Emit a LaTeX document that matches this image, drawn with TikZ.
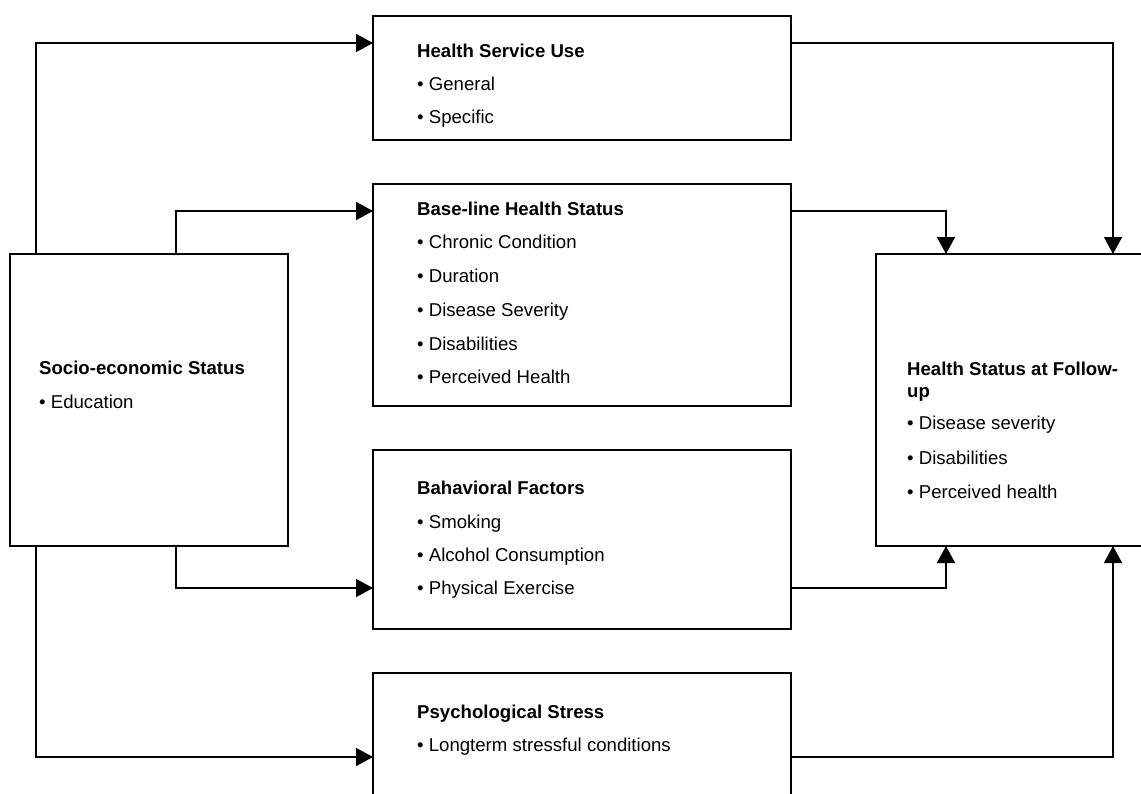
\documentclass[tikz,border=0pt]{standalone}
\usepackage{fontspec}
\setmainfont{Liberation Sans}
\usetikzlibrary{arrows.meta}
\begin{document}
\begin{tikzpicture}[x=1pt,y=-1pt,
  box/.style={draw=black,line width=1.5pt,rectangle,inner sep=0pt,outer sep=0pt},
  txt/.style={anchor=base west,inner sep=0pt,font=\fontsize{18.6}{21.5}\selectfont},
  ttl/.style={txt,font=\fontsize{18.6}{21.5}\selectfont\bfseries},
  arr/.style={line width=1.5pt,-{Triangle[length=17pt,width=18pt]}},
  ln/.style={line width=1.5pt}]
\useasboundingbox (0,0) rectangle (1141,793);
% boxes
\node[box,minimum width=418pt,minimum height=124pt] (hsu) at (582,78) {};
\node[box,minimum width=418pt,minimum height=222pt] (base) at (582,295) {};
\node[box,minimum width=418pt,minimum height=179pt] (beh) at (582,539.5) {};
\node[box,minimum width=418pt,minimum height=142pt] (psy) at (582,744) {};
\node[box,minimum width=278pt,minimum height=292pt] (ses) at (149,400) {};
\node[box,minimum width=284pt,minimum height=292pt] (hsf) at (1018,400) {};
% texts
\node[ttl] (hsuT) at (417,57) {Health Service Use};
\node[txt] (hsu1) at (417,90) {• General};
\node[txt] (hsu2) at (417,123) {• Specific};
\node[ttl] (baseT) at (417,215) {Base-line Health Status};
\node[txt] (base1) at (417,248) {• Chronic Condition};
\node[txt] (base2) at (417,282) {• Duration};
\node[txt] (base3) at (417,316) {• Disease Severity};
\node[txt] (base4) at (417,350) {• Disabilities};
\node[txt] (base5) at (417,383) {• Perceived Health};
\node[ttl] (behT) at (417,494) {Bahavioral Factors};
\node[txt] (beh1) at (417,528) {• Smoking};
\node[txt] (beh2) at (417,561) {• Alcohol Consumption};
\node[txt] (beh3) at (417,594) {• Physical Exercise};
\node[ttl] (psyT) at (417,718) {Psychological Stress};
\node[txt] (psy1) at (417,751) {• Longterm stressful conditions};
\node[ttl] (sesT) at (39,374) {Socio-economic Status};
\node[txt] (ses1) at (39,408) {• Education};
\node[ttl] (hsfT) at (907,375) {Health Status at Follow-};
\node[ttl] (hsfT2) at (907,397) {up};
\node[txt] (hsf1) at (907,429) {• Disease severity};
\node[txt] (hsf2) at (907,464) {• Disabilities};
\node[txt] (hsf3) at (907,498) {• Perceived health};
% connectors from SES
\draw[arr] ([xshift=26pt]ses.north west) |- ([yshift=-27pt]hsu.north west);
\draw[arr] ([xshift=166pt]ses.north west) |- ([yshift=-27pt]base.north west);
\draw[arr] ([xshift=166pt]ses.south west) |- ([yshift=41pt]beh.south west);
\draw[arr] ([xshift=26pt]ses.south west) |- ([yshift=-84pt]psy.north west);
% connectors to HSF
\draw[arr] ([yshift=-27pt]hsu.north east) -| ([xshift=237pt]hsf.north west);
\draw[arr] ([yshift=-27pt]base.north east) -| ([xshift=70pt]hsf.north west);
\draw[arr] ([yshift=41pt]beh.south east) -| ([xshift=70pt]hsf.south west);
\draw[arr] ([yshift=-84pt]psy.north east) -| ([xshift=237pt]hsf.south west);
\end{tikzpicture}
\end{document}
